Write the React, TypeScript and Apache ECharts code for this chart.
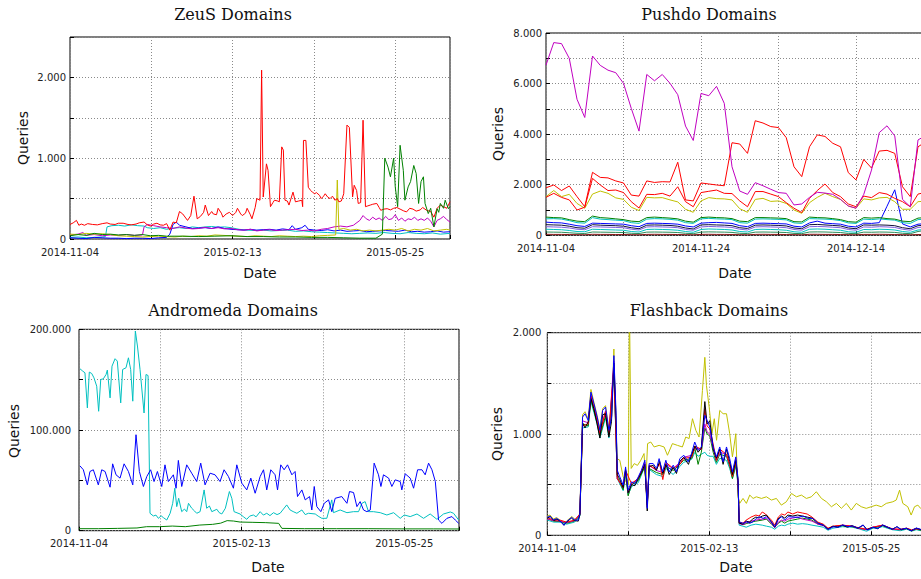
import React, { useEffect, useRef } from 'react';
import * as echarts from 'echarts';

type Pt = [number, number];

// ---------- ZeuS (x = days since 2014-11-04) ----------
const zeusRed: Pt[] = [[0,180],[2,200],[4,230],[5.5,170],[7,185],[9,170],[11,190],[14,180],[17,175],[20,190],[23,200],[25,185],[28,180],[30,195],[33,195],[36,180],[38,175],[41,185],[43,200],[46,210],[48,175],[50,160],[52,185],[54,195],[56,175],[58,170],[60,190],[62,110],[64,210],[66,200],[68,340],[70,310],[73,230],[75,290],[77,530],[79,250],[81,280],[83,330],[84,420],[86,290],[88,340],[89,310],[91,300],[92,380],[94,320],[95,270],[97,310],[99,330],[101,290],[103,330],[104,380],[106,310],[107,290],[109,320],[110,380],[112,300],[113,250],[115,390],[116,500],[118,480],[119,2090],[120,520],[122,930],[123,850],[124.5,400],[126,450],[127,480],[129,470],[130,460],[131.5,1140],[132.5,1100],[133.5,480],[135,470],[136,420],[138.5,580],[140,460],[142,470],[144,480],[144.5,400],[145,1220],[146.5,1220],[148,640],[149.5,600],[150.5,580],[152,560],[153,575],[155,540],[156,500],[157.5,530],[158.5,560],[160,520],[161.5,500],[163,530],[164.5,480],[166,500],[167,460],[168.5,470],[170,560],[172,1410],[173.5,1380],[175.5,520],[176.5,665],[178,600],[179,440],[180.5,450],[182,1470],[183.5,400],[185,410],[186.5,420],[188,430],[190.5,440],[192,390],[193,355],[195,370],[197,375],[199,360],[201,380],[203,390],[205,370],[207,350],[209,335],[211,380],[213,370],[215,345],[217.5,360],[219,390],[221.5,355],[224,340],[226,270],[228,380],[230,420],[232,400],[234,380],[236,460]];
const zeusGreen: Pt[] = [[0,40],[5,55],[10,45],[15,70],[20,55],[25,60],[30,50],[35,55],[40,45],[45,55],[50,40],[55,45],[60,35],[70,35],[80,30],[90,35],[100,40],[110,30],[120,30],[130,25],[140,25],[150,20],[160,20],[170,15],[180,10],[190,10],[194,60],[195.5,1000],[197.5,890],[199,770],[201,1000],[202,645],[203.5,400],[205,1160],[207,850],[208,480],[210,645],[211.5,710],[213.5,910],[215,810],[216.5,440],[218,710],[219.5,770],[220.5,440],[222.5,315],[224,380],[226,150],[228,375],[229,330],[230,440],[232,380],[233,480],[235,375],[236,400]];
const zeusCyan: Pt[] = [[0,20],[5,25],[10,15],[15,20],[20,25],[22,30],[23,150],[26,165],[30,170],[34,160],[38,175],[42,165],[46,160],[48,140],[52,130],[56,140],[60,120],[64,135],[68,140],[72,130],[76,150],[80,140],[84,150],[88,155],[92,145],[96,150],[100,140],[105,120],[110,110],[115,105],[120,110],[125,100],[130,105],[135,110],[140,95],[145,100],[150,90],[155,85],[160,80],[165,75],[170,70],[175,65],[180,70],[185,75],[190,70],[195,80],[200,70],[205,65],[210,80],[215,70],[220,65],[225,75],[230,60],[236,70]];
const zeusBlue: Pt[] = [[0,15],[5,10],[10,5],[15,20],[20,15],[25,10],[30,10],[35,5],[40,10],[45,10],[50,5],[55,15],[60,20],[62,60],[64,180],[66,210],[68,170],[72,150],[76,130],[80,135],[84,140],[88,130],[92,150],[96,130],[100,120],[104,115],[108,110],[112,120],[116,110],[120,115],[124,120],[128,110],[132,125],[136,115],[138,165],[140,120],[144,140],[146,170],[148,120],[152,110],[156,105],[160,115],[164,100],[168,110],[172,95],[176,100],[180,105],[184,90],[188,95],[192,100],[196,105],[200,100],[204,95],[208,110],[212,90],[216,95],[220,85],[224,90],[228,100],[232,85],[236,90]];
const zeusMagenta: Pt[] = [[0,50],[5,60],[8,80],[10,45],[15,55],[20,40],[25,50],[30,45],[35,55],[40,45],[45,50],[46,150],[48,180],[52,165],[56,150],[60,140],[64,130],[68,150],[72,135],[76,125],[80,130],[84,145],[88,130],[92,140],[96,125],[100,130],[104,115],[108,110],[112,120],[116,100],[120,110],[124,115],[128,105],[132,110],[136,115],[140,120],[144,105],[148,110],[152,100],[156,120],[160,130],[164,150],[168,160],[172,150],[176,170],[180,230],[182,290],[184,250],[186,230],[188,270],[190,240],[192,260],[194,230],[196,280],[198,240],[200,250],[202,300],[204,230],[206,260],[208,220],[210,250],[212,240],[214,270],[216,230],[218,250],[220,230],[222,260],[224,220],[226,150],[228,230],[230,250],[232,280],[234,240],[236,210]];
const zeusYellow: Pt[] = [[0,60],[5,55],[10,70],[15,60],[20,65],[25,55],[30,40],[35,35],[40,30],[45,25],[50,30],[55,35],[60,30],[65,25],[70,35],[75,30],[80,40],[85,35],[90,50],[95,45],[100,40],[105,35],[110,30],[115,40],[120,35],[125,30],[130,40],[135,35],[140,30],[145,35],[150,30],[155,40],[160,45],[165,50],[166,730],[167,120],[170,130],[174,110],[178,120],[182,100],[186,110],[190,100],[194,110],[198,120],[202,110],[206,130],[210,100],[214,120],[218,110],[222,130],[226,100],[230,110],[234,120],[236,110]];

// ---------- Pushdo (daily values, day 0 = 2014-11-04) ----------
const pushMagenta = [6730,7620,7580,7000,5380,4660,7090,6720,6530,6430,6010,5020,4120,6360,6110,6360,6010,5560,4320,3750,5610,5520,5890,5220,2710,1750,1620,2080,1960,1820,1690,1660,1200,1240,1500,1700,1670,1620,1420,1160,1070,1620,2580,4060,4330,3930,1420,1130,3770,3950];
const pushRedHigh = [1880,1990,1770,1950,1530,1130,2490,2290,2270,2150,2070,1590,1550,2150,2090,2120,2110,2890,1400,1360,2070,2030,1990,1960,3660,3610,3240,4530,4440,4300,4260,3860,2710,2320,3500,3970,3910,3640,3500,2480,2190,3000,2660,3330,3360,3240,1920,1530,3500,3700];
const pushRedLow = [1500,1660,1500,1400,1000,1110,2250,1990,1770,1790,1690,1330,1080,1620,1610,1660,1550,1920,1330,1130,1690,1740,1790,1660,1650,1360,1130,1730,1730,1630,1530,1290,1070,900,1460,1770,2030,1690,1530,1240,1130,1550,1490,1690,1630,1460,1330,1130,1630,1700];
const pushYellow = [1530,1770,1530,1620,1260,1070,1630,1750,1660,1480,1420,1110,980,1500,1480,1490,1400,1320,1030,910,1360,1490,1450,1440,1400,1050,910,1420,1460,1340,1360,1260,1000,870,1290,1500,1660,1530,1420,1160,1070,1440,1400,1480,1500,1330,1030,1030,1330,1350];
const pushGreen = [720,700,690,620,560,540,760,700,680,650,620,560,540,700,720,700,680,650,560,520,700,720,700,690,660,560,540,700,700,690,680,660,540,530,720,700,690,660,620,540,520,700,680,700,660,640,560,540,680,700];
const pushCyan = [650,660,640,580,500,480,700,640,620,600,580,500,470,640,660,650,630,600,500,470,650,670,650,640,620,500,480,640,650,640,630,610,490,470,660,650,640,620,580,490,470,640,620,650,620,600,500,470,620,640];
const pushBlue = [520,500,490,440,380,350,480,470,460,450,440,380,340,470,480,470,460,440,370,330,480,500,510,490,470,380,340,470,480,470,460,450,360,330,490,560,480,460,440,360,330,480,470,500,1150,1800,450,330,440,460];
const pushNavy = [420,410,400,360,300,280,420,400,390,380,360,300,260,400,410,400,390,360,290,250,410,420,410,400,380,300,270,400,410,400,390,370,290,260,420,430,410,390,370,290,260,410,400,410,400,380,300,260,380,400];
const pushPurple = [340,330,320,290,240,220,340,330,320,310,300,240,210,330,340,330,320,300,230,200,330,350,340,330,310,240,210,330,340,330,320,300,230,200,340,350,340,320,300,230,200,330,320,340,330,310,240,200,310,330];
const pushCyan2 = [240,230,220,190,150,140,240,230,220,210,200,150,130,230,240,230,220,200,150,120,230,250,240,230,210,150,130,230,240,230,220,200,140,120,240,250,240,220,200,140,120,230,220,240,230,210,150,120,210,230];
const pushTeal = [130,125,120,100,80,70,130,125,120,115,110,80,70,125,130,125,120,110,80,65,125,135,130,125,115,80,70,125,130,125,120,110,75,65,130,135,130,120,110,75,65,125,120,130,125,115,80,65,150,200];
const pushDarkRed = [40,35,35,30,25,20,40,35,35,30,30,25,20,35,40,35,35,30,25,20,35,40,35,35,30,25,20,35,40,35,35,30,25,20,40,40,35,35,30,25,20,35,35,40,35,30,25,20,30,35];

// ---------- Andromeda ----------
const andCyan: Pt[] = [[0.6,160800],[2.3,158500],[3.7,156800],[5.2,121900],[6.4,157500],[7.9,156100],[9.3,151800],[11,143500],[12.2,118600],[13.5,150200],[15.1,150800],[16.8,155100],[17.6,159500],[19.3,131900],[20.5,163400],[22.4,170800],[23.8,168400],[25.9,126900],[27.1,160100],[29.2,161800],[30.7,171700],[32.1,160100],[33.4,128600],[35,198300],[36.3,183400],[37.9,160100],[40.4,116900],[41.6,155100],[42.9,154100],[44.1,17300],[46.2,14600],[47.8,15500],[49.3,12300],[51,14800],[52.4,13000],[54.5,10600],[56.6,17300],[58.2,27200],[59.5,42200],[60.7,23900],[61.9,32200],[63.8,18900],[65.5,21500],[66.9,18900],[68,27200],[70,22300],[71.8,19500],[73.1,17300],[75.2,18900],[77.7,40500],[79.3,22300],[81,24500],[82.5,18900],[85.6,21300],[87,18000],[88.7,16600],[90.9,22300],[93.4,38900],[94.9,32200],[96.3,18900],[100,16600],[102,14000],[104.2,11300],[106,14500],[108.3,15600],[110,13800],[112.5,18900],[114.5,15500],[116.6,17300],[118.6,15000],[120.8,17900],[123,16000],[124.9,17300],[129,25600],[131.1,20600],[133,19000],[135.3,17300],[138.4,20600],[140.5,16000],[142.5,17300],[146.7,16600],[148.5,14500],[150.8,12300],[153.9,12300],[157,30600],[158,17900],[162.2,20600],[166.4,17900],[170.5,18900],[173.6,18900],[175.7,27200],[177.7,28900],[179.8,18900],[182.9,18900],[187.1,17900],[191.2,15600],[195.4,17900],[199.5,12300],[202,15600],[205.7,14000],[209.9,16600],[214,12300],[218.1,16600],[222.3,11300],[226.4,16600],[230.6,18600],[232.6,17300],[235.8,10600]];
const andBlue: Pt[] = [[0.6,64400],[2.7,60500],[5.2,45500],[6.8,58800],[8.9,60500],[12,45500],[14.1,60500],[16.2,58800],[19.3,43200],[20.9,66400],[23,55500],[25.5,52200],[28,66400],[30.7,58800],[33.4,45500],[35.4,95300],[37.5,58800],[40,43900],[42.1,53800],[44.5,60500],[46.6,48800],[48.7,58800],[51.4,43900],[53.4,65400],[55.5,48800],[58.6,55500],[60.3,42200],[61.7,69800],[63.8,43900],[66.9,65400],[70,57100],[73.1,48800],[75.6,67100],[78.3,45500],[81.4,57100],[84.5,55500],[87.6,48800],[90.1,60500],[92.8,53800],[95.9,42200],[98,65400],[101.1,47200],[104.2,40500],[106.7,52200],[109.4,37200],[112.5,53800],[114.6,60500],[116.6,40500],[119.1,60500],[121.8,55500],[123.3,40500],[125.3,65400],[127.4,60500],[129.5,65400],[132.2,55500],[134.2,58800],[135.7,33900],[138.4,40500],[140.5,30600],[143.2,33900],[144.6,20600],[146.1,43900],[147.7,23900],[150.2,18900],[152.3,27200],[155,30600],[157,18900],[159.1,32200],[163.2,33900],[166.4,27200],[168,38900],[170.5,37900],[172.6,23900],[174.6,28900],[176.7,20600],[178.8,18900],[180.9,20600],[183.3,67100],[186,55500],[187.5,43900],[189.1,55500],[192.3,52200],[194.3,43900],[196.4,50500],[199.5,48800],[200.5,40500],[202.6,56500],[205.7,52200],[207.8,42200],[210.3,60500],[213,60500],[215,55500],[217.1,67100],[219.2,60500],[221.3,48800],[223.3,10600],[225.4,7300],[228.5,12300],[231.6,14000],[233.7,10600],[235.8,7300]];
const andGreen: Pt[] = [[0,2000],[12,2000],[24,2300],[36,2700],[42,4000],[50,4000],[58,4600],[66,4000],[75,5600],[83,6300],[88,7500],[92,10000],[96,9600],[100,8600],[108,8300],[116,8000],[124,7300],[126,2300],[140,2000],[160,2000],[180,2000],[200,1800],[220,1800],[236,1700]];

// ---------- Flashback ----------
const fbBlue: Pt[] = [[0,177],[1.7,190],[3.7,150],[5.8,167],[7.9,144],[10.4,98],[12,134],[15.2,177],[17.2,150],[19.3,150],[20.3,216],[22,1167],[23.5,1200],[25.5,1134],[27.2,1413],[29.1,1298],[31.1,1167],[32.8,1036],[34.5,1233],[36.3,1266],[38.4,1036],[40.1,1167],[41.5,1774],[42.8,1233],[43.6,643],[45.2,577],[47.3,495],[48.8,675],[50.4,446],[52.5,528],[54.6,511],[56.7,577],[58.7,643],[60.8,741],[62.3,266],[63.5,708],[66,708],[68.1,659],[69.7,757],[71.8,626],[73.9,741],[76,626],[78.5,692],[80.5,626],[82.6,757],[85.1,790],[87.8,725],[89.9,807],[91.9,921],[94,839],[96.1,872],[98.2,1184],[99.6,1134],[101.3,1069],[103.4,872],[105.4,774],[107.5,872],[109.6,725],[111.7,872],[113.7,757],[115.4,626],[117.5,774],[118.9,560],[119.6,134],[122,118],[124.1,134],[126.2,118],[128.3,134],[130.3,167],[132.4,184],[134.5,167],[136.6,184],[139.7,134],[141.8,85],[143.8,150],[145.9,184],[148,150],[150.1,184],[153.2,180],[156.3,177],[159.4,190],[162.5,167],[165.6,167],[168.7,118],[171.9,102],[175,59],[178.1,85],[181.2,79],[184.3,102],[187.4,85],[190.5,92],[193.6,69],[196.8,102],[199.3,52],[203,79],[206.1,66],[209.2,102],[212.3,79],[215.4,59],[217.9,85],[220.6,59],[223.7,69],[226.9,46],[230,72],[232.7,59],[236,70]];
const fbYellow: Pt[] = [[0,190],[1.7,200],[3.7,160],[5.8,175],[7.9,150],[10.4,105],[12,140],[15.2,185],[17.2,160],[19.3,160],[20.3,230],[22,1190],[23.5,1220],[25.5,1150],[27.2,1440],[29.1,1310],[31.1,1180],[32.8,1050],[34.5,1250],[36.3,1280],[38.4,1050],[40.1,1180],[41.5,1839],[42.3,1300],[43.5,757],[45.2,740],[47.3,577],[49.4,520],[50.5,500],[51.2,2300],[52.3,660],[54.2,708],[56.2,690],[58.3,741],[60.3,807],[61.4,511],[62.5,905],[64.5,921],[66.6,872],[69.7,888],[72.8,872],[74.9,790],[78,905],[81.1,888],[84.2,872],[86.3,970],[88.4,955],[90.5,1151],[92.6,1036],[94.6,970],[96.7,1430],[98.2,1757],[99.2,1479],[100.9,1266],[102.6,1003],[104.1,1151],[105.5,938],[107.5,1233],[109.6,1200],[111.7,1200],[113.7,1003],[115.4,774],[117.5,1003],[118.9,380],[119.9,315],[122,364],[124.1,315],[126.2,397],[128.3,364],[130.3,380],[133.5,364],[136.6,380],[139.7,348],[142.8,364],[145.9,298],[149,331],[152.2,413],[155.3,380],[158.4,397],[161.5,364],[164.6,380],[167.7,430],[170.9,364],[174,331],[177.1,282],[180.2,315],[183.3,266],[186.4,315],[189.5,249],[192.6,315],[195.7,282],[198.8,266],[201.9,282],[205,298],[208.2,282],[211.3,315],[215.4,331],[217.5,348],[219.6,446],[221.6,315],[224.7,282],[226.8,200],[228.9,282],[231,298],[232.7,266],[236,280]];
const fbBlack: Pt[] = [[0,170],[2,185],[4,145],[6,160],[8,140],[10.4,100],[12,130],[15,170],[17,145],[19.3,140],[20.3,200],[22,1110],[23.5,1060],[25.5,1120],[27.2,1350],[29,1250],[31,1100],[32.8,960],[34.5,1190],[36.3,1200],[38.4,970],[40,1120],[41.5,1700],[42.8,1180],[43.6,600],[45,560],[47.3,470],[48.8,650],[50.4,420],[52.5,500],[54.6,490],[56.7,560],[58.7,620],[60.8,700],[62.3,240],[63.5,680],[66,690],[68,640],[70,730],[72,610],[74,700],[76,600],[78.5,670],[80.5,610],[82.6,730],[85,770],[88,700],[90,800],[92,880],[94,820],[96,860],[98.2,1320],[99.6,1100],[101.3,1130],[103.4,850],[105.4,760],[107.5,850],[109.6,700],[111.7,850],[113.7,730],[115.4,600],[117.5,740],[118.9,540],[119.6,120],[122,110],[124,140],[126,130],[128,160],[130,180],[132,170],[134,190],[136.6,200],[139.7,130],[141.8,80],[143.8,160],[146,190],[148,170],[150,200],[153,190],[156,200],[159,190],[162,180],[165,170],[168.7,120],[172,100],[175,60],[178,90],[181,80],[184,100],[187,80],[190,95],[193.6,70],[197,100],[199.3,55],[203,80],[206,65],[209,100],[212,80],[215,60],[218,85],[220.6,55],[223.7,70],[227,45],[230,70],[233,55],[236,65]];
const fbRed: Pt[] = [[0,175],[4,150],[8,150],[12,130],[17,150],[20.3,210],[22,1080],[25.5,1100],[27.2,1380],[31,1130],[32.8,1000],[36.3,1220],[38.4,1000],[41.5,1680],[43.6,560],[47.3,470],[48.8,640],[52.5,510],[56.7,560],[60.8,700],[62.3,280],[63.5,690],[68,650],[70,710],[72,550],[74,720],[78.5,660],[82.6,700],[85,760],[90,770],[92,880],[96,850],[98.2,1250],[99.6,1080],[101.3,1050],[103.4,900],[105.4,740],[107.5,850],[111.7,800],[113.7,700],[115.4,580],[117.5,720],[118.9,540],[119.6,130],[122,120],[124,150],[127,180],[130,200],[132,190],[134,230],[136,210],[139.7,150],[141.8,100],[144,180],[146,210],[148,200],[150,230],[153,210],[156,230],[159,220],[162,210],[165,180],[168.7,130],[172,110],[175,70],[178,90],[184,100],[190,90],[194,75],[199,60],[203,80],[209,100],[215,65],[220,60],[224,70],[227,55],[230,65],[233,55],[236,60]];
const fbGreen: Pt[] = [[0,165],[4,140],[8,135],[12,120],[17,140],[20.3,200],[22,1100],[25.5,1080],[27.2,1340],[31,1120],[32.8,980],[36.3,1180],[38.4,990],[41.5,1650],[43.6,580],[47.3,450],[48.8,620],[50.4,390],[52.5,500],[56.7,540],[60.8,680],[62.3,300],[63.5,660],[68,620],[72,600],[74,680],[78.5,640],[82.6,700],[85,740],[90,760],[92,860],[94,700],[96,820],[98.2,1060],[99.6,1000],[101.3,980],[103.4,820],[105.4,720],[107.5,800],[111.7,780],[113.7,680],[115.4,560],[117.5,700],[118.9,520],[119.6,120],[122,105],[124,115],[127,130],[130,140],[134,150],[136.6,160],[139.7,110],[141.8,80],[144,120],[146,140],[148,120],[150,140],[153,150],[156,160],[159,170],[162,160],[165,150],[168.7,110],[172,100],[175,60],[178,85],[184,95],[190,85],[194,70],[199,55],[203,75],[209,95],[215,60],[220,55],[224,65],[227,45],[230,60],[233,50],[236,60]];
const fbMagenta: Pt[] = [[0,160],[4,145],[8,140],[12,125],[17,145],[20.3,205],[22,1130],[25.5,1110],[27.2,1380],[31,1150],[32.8,1010],[36.3,1230],[38.4,1010],[41.5,1720],[43.6,560],[47.3,480],[48.8,640],[50.4,420],[52.5,510],[56.7,560],[60.8,720],[62.3,300],[63.5,690],[68,640],[72,620],[74,700],[78.5,660],[82.6,720],[85,770],[90,790],[92,860],[96,850],[98.2,1100],[99.6,1020],[101.3,1000],[103.4,860],[105.4,740],[107.5,820],[111.7,800],[113.7,700],[115.4,600],[117.5,760],[118.9,520],[119.6,115],[122,105],[124,125],[127,140],[130,150],[134,160],[136.6,170],[139.7,120],[141.8,75],[144,130],[146,150],[148,140],[150,160],[153,170],[156,180],[159,160],[162,150],[165,140],[168.7,110],[172,95],[175,60],[178,85],[184,100],[190,90],[194,70],[199,55],[203,80],[209,100],[215,60],[220,55],[224,70],[227,45],[230,65],[233,55],[236,60]];
const fbCyan: Pt[] = [[0,150],[4,130],[8,130],[12,110],[17,130],[20.3,190],[22,1060],[25.5,1070],[27.2,1320],[31,1100],[32.8,960],[36.3,1160],[38.4,960],[41.5,1630],[43.6,560],[47.3,440],[48.8,600],[50.4,400],[52.5,480],[56.7,520],[60.8,680],[62.3,320],[63.5,650],[68,600],[72,580],[74,660],[78.5,600],[82.6,680],[85,720],[90,750],[92,820],[94,780],[96,800],[98.2,820],[99.6,790],[101.3,780],[103.4,780],[105.4,700],[107.5,760],[111.7,740],[113.7,660],[115.4,560],[117.5,680],[118.9,500],[119.6,100],[122,90],[124,80],[127,100],[130,110],[134,100],[136.6,90],[139.7,80],[141.8,60],[144,90],[146,100],[148,95],[150,110],[153,120],[156,110],[159,115],[162,110],[165,100],[168.7,90],[172,80],[175,50],[178,70],[184,85],[190,80],[194,65],[199,40],[203,70],[209,85],[215,55],[220,45],[224,60],[227,40],[230,55],[233,45],[236,55]];

const START = Date.UTC(2014, 10, 4);
const dateLabel = (d: number) => new Date(START + Math.round(d) * 86400000).toISOString().slice(0, 10);
const fmtNum = (v: number) => String(Math.round(v)).replace(/\B(?=(\d{3})+(?!\d))/g, '.');
const isMult = (v: number, s: number) => Math.abs(v / s - Math.round(v / s)) < 1e-6;

const COL = { red: '#ff0000', green: '#008000', blue: '#0000ff', magenta: '#c000c0', cyan: '#00c0c0', yellow: '#c0c000', black: '#000000' };

const daily = (arr: number[]): Pt[] => arr.map((v, i) => [i, v]);

const split = { show: true, lineStyle: { color: '#8a8a8a', type: [1, 2] as any, width: 1 } };
const tickStyle = { show: true, inside: true, length: 4, lineStyle: { color: '#000', width: 1 } };

function xAx(gi: number, max: number, interval: number, every: number, label: (v: number) => string) {
  return {
    type: 'value', gridIndex: gi, min: 0, max, interval,
    axisLine: { show: false }, axisTick: tickStyle, splitLine: split,
    axisLabel: {
      margin: 8, fontFamily: 'DejaVu Sans', fontSize: 10, color: '#222',
      formatter: (v: number) => (isMult(v, every) ? label(v) : ''),
    },
  };
}
function yAx(gi: number, max: number, interval: number, every: number, margin: number) {
  return {
    type: 'value', gridIndex: gi, min: 0, max, interval,
    axisLine: { show: false }, axisTick: tickStyle, splitLine: split,
    axisLabel: {
      margin, fontFamily: 'DejaVu Sans', fontSize: 10, color: '#222',
      formatter: (v: number) => (isMult(v, every) ? fmtNum(v) : ''),
    },
  };
}
function ln(data: Pt[], color: string, gi: number) {
  return {
    type: 'line', data, xAxisIndex: gi, yAxisIndex: gi, showSymbol: false, symbol: 'none',
    lineStyle: { color, width: 1 }, itemStyle: { color }, silent: true, clip: true,
  };
}
function txt(text: string, x: number, y: number, font: string, rot = 0) {
  return {
    type: 'text', x, y, rotation: rot, silent: true,
    style: { text, font, fill: '#111', textAlign: 'center', textVerticalAlign: 'middle', align: 'center', verticalAlign: 'middle' },
  };
}

const titleFont = '16px "DejaVu Serif"';
const labFont = '14px "DejaVu Sans"';

const option = {
  animation: false,
  backgroundColor: '#ffffff',
  grid: [
    { left: 70, top: 37, width: 380, height: 202, show: true, borderColor: '#000', borderWidth: 1, backgroundColor: 'transparent' },
    { left: 546, top: 33, width: 387.5, height: 202.3, show: true, borderColor: '#000', borderWidth: 1, backgroundColor: 'transparent' },
    { left: 79, top: 329.3, width: 380, height: 201.4, show: true, borderColor: '#000', borderWidth: 1, backgroundColor: 'transparent' },
    { left: 547.3, top: 332.7, width: 378.6, height: 202.6, show: true, borderColor: '#000', borderWidth: 1, backgroundColor: 'transparent' },
  ],
  xAxis: [
    xAx(0, 236, 50.5, 101, dateLabel),
    xAx(1, 50, 10, 20, dateLabel),
    xAx(2, 236, 50.5, 101, dateLabel),
    xAx(3, 236, 50.5, 101, dateLabel),
  ],
  yAxis: [
    yAx(0, 2500, 500, 1000, 4),
    yAx(1, 8000, 1000, 2000, 4),
    yAx(2, 200000, 50000, 100000, 8),
    yAx(3, 2000, 500, 1000, 6),
  ],
  graphic: [
    txt('ZeuS Domains', 233, 14, titleFont),
    txt('Pushdo Domains', 709, 14, titleFont),
    txt('Andromeda Domains', 233, 310, titleFont),
    txt('Flashback Domains', 709, 310.5, titleFont),
    txt('Queries', 23, 138, labFont, Math.PI / 2),
    txt('Queries', 498, 134, labFont, Math.PI / 2),
    txt('Queries', 14, 431, labFont, Math.PI / 2),
    txt('Queries', 497, 434, labFont, Math.PI / 2),
    txt('Date', 260, 273, labFont),
    txt('Date', 735, 273, labFont),
    txt('Date', 268, 567, labFont),
    txt('Date', 736, 567, labFont),
  ],
  series: [
    ln(zeusCyan, COL.cyan, 0),
    ln(zeusBlue, COL.blue, 0),
    ln(zeusMagenta, COL.magenta, 0),
    ln(zeusYellow, COL.yellow, 0),
    ln(zeusRed, COL.red, 0),
    ln(zeusGreen, COL.green, 0),

    ln(daily(pushDarkRed), '#8b1a1a', 1),
    ln(daily(pushTeal), '#2e8b57', 1),
    ln(daily(pushCyan2), COL.cyan, 1),
    ln(daily(pushPurple), '#8060e0', 1),
    ln(daily(pushNavy), '#10103a', 1),
    ln(daily(pushBlue), COL.blue, 1),
    ln(daily(pushCyan), COL.cyan, 1),
    ln(daily(pushGreen), COL.green, 1),
    ln(daily(pushYellow), COL.yellow, 1),
    ln(daily(pushRedLow), COL.red, 1),
    ln(daily(pushRedHigh), COL.red, 1),
    ln(daily(pushMagenta), COL.magenta, 1),

    ln(andGreen, COL.green, 2),
    ln(andCyan, COL.cyan, 2),
    ln(andBlue, COL.blue, 2),

    ln(fbYellow, COL.yellow, 3),
    ln(fbCyan, COL.cyan, 3),
    ln(fbGreen, COL.green, 3),
    ln(fbMagenta, COL.magenta, 3),
    ln(fbRed, COL.red, 3),
    ln(fbBlack, COL.black, 3),
    ln(fbBlue, COL.blue, 3),
  ],
};

export default function App() {
  const ref = useRef<HTMLDivElement>(null);
  useEffect(() => {
    if (!ref.current) return;
    const chart = echarts.init(ref.current, null, { renderer: 'svg' });
    chart.setOption(option as any);
    return () => chart.dispose();
  }, []);
  return (
    <div style={{ position: 'fixed', left: 0, top: 0, width: 921, height: 579, overflow: 'hidden', background: '#fff' }}>
      <div ref={ref} style={{ width: 940, height: 579 }} />
    </div>
  );
}
